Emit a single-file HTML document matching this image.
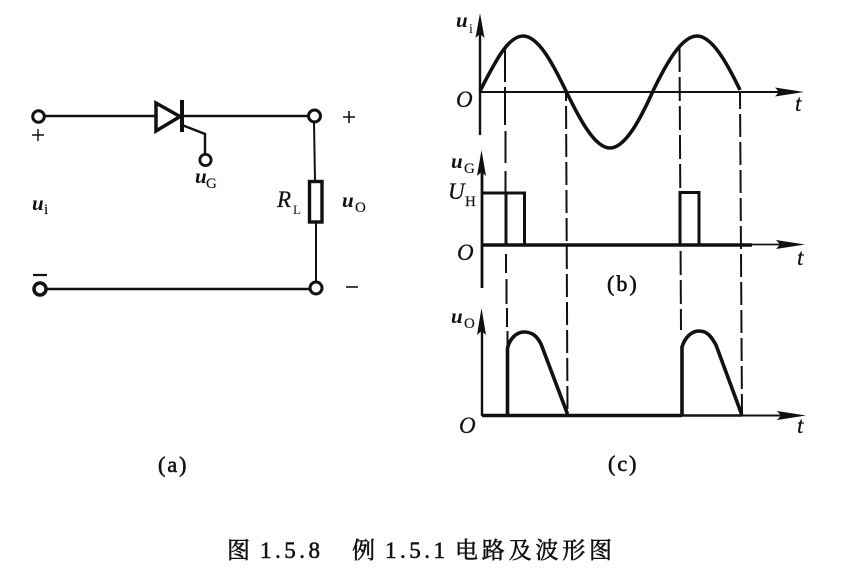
<!DOCTYPE html>
<html>
<head>
<meta charset="utf-8">
<style>
html,body{margin:0;padding:0;background:#fff;}
svg{display:block;}
text{font-family:"Liberation Serif","Noto Serif CJK SC",serif;fill:#111;}
.b{font-style:italic;font-weight:bold;font-size:21px;}
.n{font-style:italic;font-size:23px;stroke:#111;stroke-width:.25;}
.s{font-size:15px;stroke:#111;stroke-width:.15;}
.p{font-size:22px;letter-spacing:2px;stroke:#111;stroke-width:.6;}
.c{font-size:23px;stroke:#111;stroke-width:.55;}
</style>
</head>
<body>
<svg width="845" height="576" viewBox="0 0 845 576" xmlns="http://www.w3.org/2000/svg">
<rect width="845" height="576" fill="#fff"/>
<g fill="none" stroke="#111" stroke-width="2.6">
  <!-- circuit a -->
  <path d="M44 116H155M182 116H309M46 289H310"/>
  <path d="M314 122L315 181M316 222V282" stroke-width="2"/>
  <circle cx="38.5" cy="116.5" r="5.8" stroke-width="3"/>
  <circle cx="40" cy="289" r="6" stroke-width="3.5"/>
  <circle cx="314.5" cy="116" r="6" stroke-width="3"/>
  <circle cx="316" cy="288" r="6" stroke-width="3"/>
  <circle cx="205.5" cy="160" r="5.6" stroke-width="2.8"/>
  <path d="M156 103L180 116.5L156 131Z" stroke-width="3.5"/>
  <path d="M182 100V132" stroke-width="4"/>
  <path d="M182 125L205 134V154" stroke-width="2.4"/>
  <rect x="309.5" y="181.5" width="12.5" height="40.5" stroke-width="3.4"/>
  <path d="M33 275H47" stroke-width="2.2"/>
  <path d="M346 287H358" stroke-width="1.6"/>
  <path d="M343 117H355M349 111V123" stroke-width="1.6"/>
  <path d="M32 135H44M38 129V141" stroke-width="1.4"/>

  <!-- axes -->
  <path d="M480 92H780" stroke-width="2"/>
  <path d="M480 30V135" stroke-width="2.4"/>
  <path d="M482 165V288" stroke-width="2.8"/>
  <path d="M482 325V416" stroke-width="2.4"/>
  <path d="M752 244.5H782" stroke-width="1.8"/>
  <path d="M742 415.5H782" stroke-width="2"/>

  <!-- wave 1 -->
  <path d="M480 91C495 62 508 36 523 36C538 36 552 62 566 91C580 120 595 148 610 148C625 148 640 120 653 91C667 62 682 36 697 36C712 36 727 63 740 90" stroke-width="3.6"/>
  <!-- wave 2 -->
  <path d="M482 193H524.5V245M506 193V245M680 245V192.500H699V245" stroke-width="3"/>
  <path d="M482 245H752" stroke-width="3.6"/>
  <!-- wave 3 -->
  <path d="M482 415.500H682" stroke-width="3.4"/>
  <path d="M682 415.500H742" stroke-width="2.4"/>
  <path d="M507.500 415V348C510 338 517 332 524 332C532 332 537 336 541 344L567.500 414" stroke-width="3.6"/>
  <path d="M682 415V347C685 337 692 331 699 331C707 331 711 336 716 345L741.500 414" stroke-width="3.6"/>

  <!-- dashes -->
  <g stroke-width="2">
    <path d="M505 50V82M505 87V125M505.500 131V163M505.500 171V193M506 254V273M506.500 279V304M507 308V327M507.500 331V348"/>
    <path d="M566 92L567.500 415" stroke-dasharray="23 5" stroke-dashoffset="14"/>
    <path d="M679.500 48L681 330" stroke-dasharray="24 5"/>
    <path d="M740 92L742 415" stroke-dasharray="23 5" stroke-dashoffset="6"/>
  </g>
</g>
<!-- arrows -->
<g fill="#111">
  <path d="M804 92L775 87.500L779 92L775 96.500Z"/>
  <path d="M805 244.500L776 240L780 244.500L776 249Z"/>
  <path d="M806 415.500L777 411L781 415.500L777 420Z"/>
  <path d="M480 13L475.500 38L480 34L484.500 38Z"/>
  <path d="M481.500 150L477 176L481.500 172L486 176Z"/>
  <path d="M481.500 308L477 335L481.500 331L486 335Z"/>
</g>
<!-- labels -->
<text x="32" y="210" class="b">u</text><text x="44" y="214" class="s">i</text>
<text x="195" y="183" class="b">u</text><text x="206" y="188" class="s">G</text>
<text x="277" y="207" class="n">R</text><text x="293" y="214" font-size="13">L</text>
<text x="342" y="207" class="b">u</text><text x="355" y="212" class="s">O</text>
<text x="158" y="472" class="p">(a)</text>
<text x="456" y="27" class="b">u</text><text x="469" y="33" font-size="14">i</text>
<text x="456" y="107" class="n">O</text>
<text x="795" y="111" class="n">t</text>
<text x="451" y="168" class="b">u</text><text x="464" y="173" class="s">G</text>
<text x="448" y="199" class="n">U</text><text x="465" y="206" class="s">H</text>
<text x="457" y="260" class="n">O</text>
<text x="797" y="265" class="n">t</text>
<text x="607" y="291" class="p">(b)</text>
<text x="451" y="323" class="b">u</text><text x="464" y="328" class="s">O</text>
<text x="459" y="433" class="n">O</text>
<text x="797" y="433" class="n">t</text>
<text x="608" y="471" class="p">(c)</text>
<text x="227" y="558" class="c" style="font-family:'Noto Serif CJK SC',serif">图</text>
<text x="260" y="558" class="c" letter-spacing="3.5">1.5.8</text>
<text x="352" y="558" class="c" style="font-family:'Noto Serif CJK SC',serif">例</text>
<text x="385" y="558" class="c" letter-spacing="3.5">1.5.1</text>
<text x="455" y="558" class="c" letter-spacing="3.8" style="font-family:'Noto Serif CJK SC',serif">电路及波形图</text>
</svg>
</body>
</html>
